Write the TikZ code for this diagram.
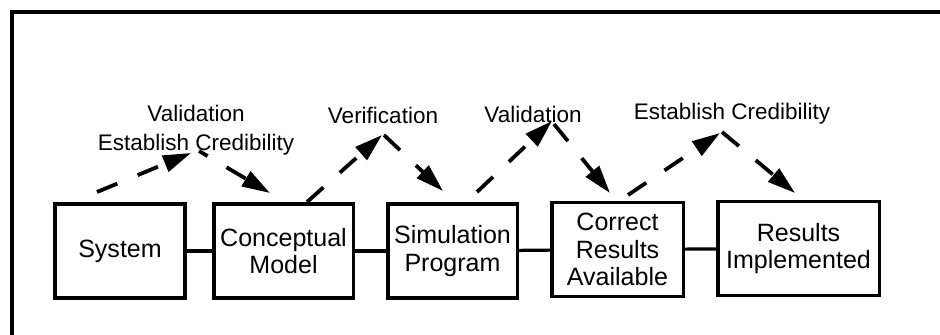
\documentclass[tikz,border=0pt]{standalone}
\usepackage{fontspec}
\setmainfont{Liberation Sans}
\usepackage{tikz}
\usetikzlibrary{arrows.meta}

\begin{document}
\begin{tikzpicture}[
  x=0.025cm,y=-0.025cm,
  >={Triangle[length=0.7cm,width=0.42cm]},
  %--- node styles ---
  stage/.style  ={draw=black,line width=2.3pt,fill=white,text=black,
                  minimum height=2.35cm,inner sep=1pt,align=center,
                  font=\fontsize{17.8}{19.5}\selectfont},
  tag/.style    ={text=black,align=center,inner sep=0pt,
                  font=\fontsize{16}{20.5}\selectfont},
  %--- line styles ---
  link/.style   ={line width=2.3pt,draw=black},
  check/.style  ={->,line width=2.7pt,draw=black,dash pattern=on 0.55cm off 0.55cm},
  frame/.style  ={line width=2.8pt,draw=black},
]
\useasboundingbox (0,0) rectangle (940,335);

%==================== frame ====================
\draw[frame] (12,335) -- (12,12) -- (940,12);

%==================== stages ====================
\node[stage,minimum width=3.25cm]  (sys) at (120,251)   {System};
\node[stage,minimum width=3.48cm]  (cm)  at (283.5,251) {Conceptual\\Model};
\node[stage,minimum width=3.23cm]  (sp)  at (452.5,251) {Simulation\\Program};
\node[stage,minimum width=3.28cm]  (cra) at (617.5,249.5) {Correct\\Results\\Available};
\node[stage,minimum width=4.03cm]  (ri)  at (798.5,248.5) {Results\\Implemented};

%==================== links ====================
\draw[link] (sys) -- (cm);
\draw[link] (cm)  -- (sp);
\draw[link] (sp)  -- (cra);
\draw[link] (cra) -- (ri);

%==================== check labels ====================
\node[tag] (l1) at (196,130) {Validation\\Establish Credibility};
\node[tag] (l2) at (383,115) {Verification};
\node[tag] (l3) at (533,114) {Validation};
\node[tag] (l4) at (732,114) {Establish Credibility};

%==================== dashed checks ====================
\coordinate (s1) at (97,192);   \coordinate (t1) at (191,153);
\coordinate (u1) at (199,151);  \coordinate (e1) at (270,193);
\coordinate (s2) at (307,202);  \coordinate (t2) at (382,135);
\coordinate (u2) at (384,135);  \coordinate (e2) at (443,191);
\coordinate (s3) at (477,192);  \coordinate (t3) at (552,121);
\coordinate (u3) at (554,124);  \coordinate (e3) at (610,193);
\coordinate (s4) at (628,195);  \coordinate (t4) at (720,133);
\coordinate (u4) at (722,132);  \coordinate (e4) at (795,193);

\draw[check] (s1) -- (t1);
\draw[check,dash phase=0.3cm] (u1) -- (e1);
\draw[check] (s2) -- (t2);
\draw[check] (u2) -- (e2);
\draw[check] (s3) -- (t3);
\draw[check] (u3) -- (e3);
\draw[check] (s4) -- (t4);
\draw[check] (u4) -- (e4);

\end{tikzpicture}
\end{document}
